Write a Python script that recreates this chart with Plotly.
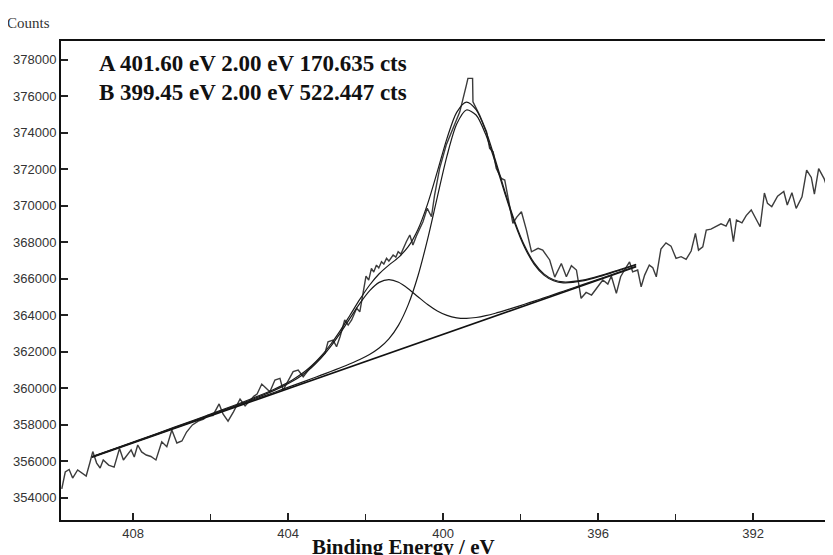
import plotly.graph_objects as go

# ---- raw spectrum (binding energy / eV, counts) ----
energy = [409.84, 409.75, 409.65, 409.56, 409.43, 409.30, 409.21, 409.11, 409.04, 408.94,
          408.85, 408.77, 408.63, 408.49, 408.35, 408.25, 408.14, 408.05, 407.97, 407.88,
          407.78, 407.66, 407.54, 407.41, 407.26, 407.13, 407.00, 406.87, 406.74, 406.62,
          406.47, 406.32, 406.18, 406.08, 405.94, 405.78, 405.68, 405.55, 405.41, 405.24,
          405.11, 405.01, 404.88, 404.80, 404.68, 404.60, 404.47, 404.34, 404.21, 404.13,
          404.00, 403.87, 403.74, 403.61, 403.44, 403.31, 403.18, 403.05, 402.97, 402.84,
          402.75, 402.66, 402.54, 402.45, 402.36, 402.23, 402.15, 402.06, 401.99, 401.92,
          401.85, 401.79, 401.72, 401.66, 401.59, 401.53, 401.46, 401.40, 401.29, 401.22,
          401.16, 401.09, 401.03, 400.95, 400.86, 400.78, 400.69, 400.60, 400.52, 400.41,
          400.30, 400.22, 400.09, 399.92, 399.74, 399.57, 399.40, 399.36, 399.24, 399.23,
          399.06, 398.88, 398.80, 398.71, 398.63, 398.50, 398.41, 398.31, 398.20, 398.10,
          397.98, 397.85, 397.72, 397.55, 397.43, 397.25, 397.12, 396.95, 396.82, 396.69,
          396.56, 396.44, 396.31, 396.17, 396.03, 395.88, 395.75, 395.66, 395.53, 395.42,
          395.29, 395.19, 395.11, 394.98, 394.89, 394.80, 394.68, 394.59, 394.50, 394.38,
          394.25, 394.12, 393.99, 393.86, 393.73, 393.60, 393.49, 393.41, 393.30, 393.21,
          393.09, 392.96, 392.83, 392.70, 392.60, 392.51, 392.43, 392.29, 392.18, 392.05,
          391.93, 391.82, 391.71, 391.63, 391.52, 391.37, 391.21, 391.12, 391.00, 390.89,
          390.74, 390.62, 390.50, 390.42, 390.31, 390.17, 390.08, 390.00, 389.95]
counts = [354480, 355410, 355550, 355080, 355520, 355330, 355190, 355960, 356530, 355900,
          355630, 356070, 355790, 355680, 356700, 356070, 356400, 356620, 356230, 356890,
          356510, 356340, 356260, 356070, 357070, 356800, 357710, 357000, 357110, 357600,
          357990, 358200, 358310, 358510, 358510, 359140, 358590, 358200, 358710, 359410,
          359030, 359250, 359570, 359680, 360230, 360070, 359810, 360450, 360540, 359900,
          360450, 360910, 361000, 360630, 361090, 361370, 361640, 361910, 362550, 362640,
          362280, 362820, 363740, 363460, 363740, 364380, 364190, 365380, 366150, 365930,
          366570, 366370, 366750, 366590, 366930, 366810, 367120, 366970, 367300, 367190,
          367480, 367350, 367670, 368030, 368400, 367850, 368340, 368760, 369120, 369860,
          369400, 370590, 372050, 373330, 374240, 375150, 376610, 376980, 376980, 375700,
          374970, 374060, 373150, 372960, 372050, 371500, 371410, 370310, 369040, 369380,
          369670, 368670, 367480, 367670, 367570, 367030, 366090, 366840, 366110, 366720,
          366480, 364930, 365250, 365110, 365480, 365930, 365710, 366150, 365200, 366110,
          366590, 366920, 366380, 366480, 365560, 366200, 366750, 366610, 366110, 367630,
          367970, 367790, 367120, 367210, 367060, 367520, 368490, 367570, 367750, 368670,
          368720, 368850, 369010, 368890, 369310, 368030, 369220, 369070, 369460, 369770,
          369310, 368850, 370700, 370130, 369950, 370530, 370780, 370040, 370720, 369860,
          370490, 371960, 371550, 370640, 372040, 371490, 370920, 371160, 373050]

# ---- fit: linear background and two components ----
bg_energy = [409.06, 395.02]
bg_counts = [356215, 366658]

fit_energy = [409.06, 408.4, 407.4, 406.4, 405.9, 405.4, 404.9, 404.4, 404.15, 403.9,
              403.65, 403.4, 403.15, 402.9, 402.65, 402.4, 402.15, 401.9, 401.65, 401.4,
              401.15, 400.9, 400.65, 400.4, 400.15, 399.9, 399.65, 399.4, 399.15, 398.9,
              398.65, 398.4, 398.15, 397.9, 397.65, 397.4, 397.15, 396.9, 396.4, 395.9,
              395.4, 395.02]
peak_a = [356237, 356732, 357485, 358244, 358627, 359014, 359414, 359843, 360087, 360367,
          360705, 361126, 361649, 362289, 363033, 363843, 364647, 365338, 365801, 365954,
          365809, 365458, 365017, 364587, 364234, 363990, 363860, 363830, 363877, 363978,
          364112, 364266, 364431, 364603, 364778, 364955, 365134, 365314, 365677, 366040,
          366407, 366686]
peak_b = [356232, 356726, 357475, 358226, 358602, 358980, 359361, 359743, 359936, 360129,
          360323, 360520, 360718, 360919, 361126, 361341, 361575, 361848, 362202, 362706,
          363461, 364582, 366154, 368173, 370476, 372733, 374476, 375250, 374974, 373903,
          372342, 370626, 369031, 367732, 366794, 366201, 365888, 365774, 365880, 366162,
          366495, 366759]
envelope = [356254, 356752, 357510, 358276, 358664, 359057, 359466, 359905, 360156, 360443,
            360789, 361221, 361756, 362411, 363176, 364015, 364867, 365645, 366276, 366748,
            367172, 367756, 368701, 370104, 371868, 373695, 375122, 375680, 375265, 374109,
            372496, 370748, 369132, 367819, 366870, 366268, 365948, 365828, 365925, 366199,
            366527, 366787]

x_ticks = [408, 404, 400, 396, 392]
x_tick_labels = ["408", "404", "400", "396", "392"]
x_minor = [406, 402, 398, 394, 390]
y_ticks = [354000, 356000, 358000, 360000, 362000, 364000, 366000, 368000,
           370000, 372000, 374000, 376000, 378000]
y_tick_labels = [str(v) for v in y_ticks]

line_a = "A 401.60 eV 2.00 eV 170.635 cts"
line_b = "B 399.45 eV 2.00 eV 522.447 cts"

fig = go.Figure()
fig.add_trace(go.Scatter(x=energy, y=counts, mode="lines",
                         line=dict(color="#3c3c3c", width=1.4), hoverinfo="skip"))
fig.add_trace(go.Scatter(x=bg_energy, y=bg_counts, mode="lines",
                         line=dict(color="#111111", width=1.6), hoverinfo="skip"))
for comp in (peak_a, peak_b, envelope):
    fig.add_trace(go.Scatter(x=fit_energy, y=comp, mode="lines",
                             line=dict(color="#1a1a1a", width=1.2, shape="spline", smoothing=0.8),
                             hoverinfo="skip"))

# the page body adds an 8 px offset; margins compensate so the plot area
# sits at page x 61..833, y 41..520 like the reference
fig.update_layout(
    width=833, height=555,
    margin=dict(l=53, r=8, t=33, b=43),
    paper_bgcolor="white", plot_bgcolor="white",
    showlegend=False,
    font=dict(family="Liberation Sans, Arial, sans-serif", size=13, color="#333333"),
)
fig.update_xaxes(
    range=[409.86, 389.94], tickmode="array", tickvals=x_ticks, ticktext=x_tick_labels,
    ticks="inside", ticklen=7, tickwidth=1.5, tickcolor="#222222",
    showline=True, linecolor="#111111", linewidth=2, mirror=True,
    showgrid=False, zeroline=False, automargin=False,
    minor=dict(tickvals=x_minor, ticks="inside", ticklen=6, tickwidth=1.2,
               tickcolor="#222222", showgrid=False),
)
fig.update_yaxes(
    range=[352780, 379030], tickmode="array", tickvals=y_ticks, ticktext=y_tick_labels,
    ticks="inside", ticklen=7, tickwidth=1.5, tickcolor="#222222",
    showline=True, linecolor="#111111", linewidth=2, mirror=False,
    showgrid=False, zeroline=False, automargin=False,
)

serif = "Liberation Serif, Times New Roman, serif"
fig.add_annotation(text="Counts", xref="paper", yref="paper", x=-0.0725, y=1.0376,
                   xanchor="left", yanchor="middle", showarrow=False,
                   font=dict(family=serif, size=15, color="#333333"))
fig.add_annotation(text="<b>" + line_a + "</b>", xref="paper", yref="paper", x=0.0466, y=0.952,
                   xanchor="left", yanchor="middle", showarrow=False,
                   font=dict(family=serif, size=23, color="#111111"))
fig.add_annotation(text="<b>" + line_b + "</b>", xref="paper", yref="paper", x=0.0466, y=0.8935,
                   xanchor="left", yanchor="middle", showarrow=False,
                   font=dict(family=serif, size=23, color="#111111"))
fig.add_annotation(text="<b>Binding Energy / eV</b>", xref="paper", yref="paper", x=0.4443, y=-0.0560,
                   xanchor="center", yanchor="middle", showarrow=False,
                   font=dict(family=serif, size=21, color="#111111"))

fig.write_html("out.html")
